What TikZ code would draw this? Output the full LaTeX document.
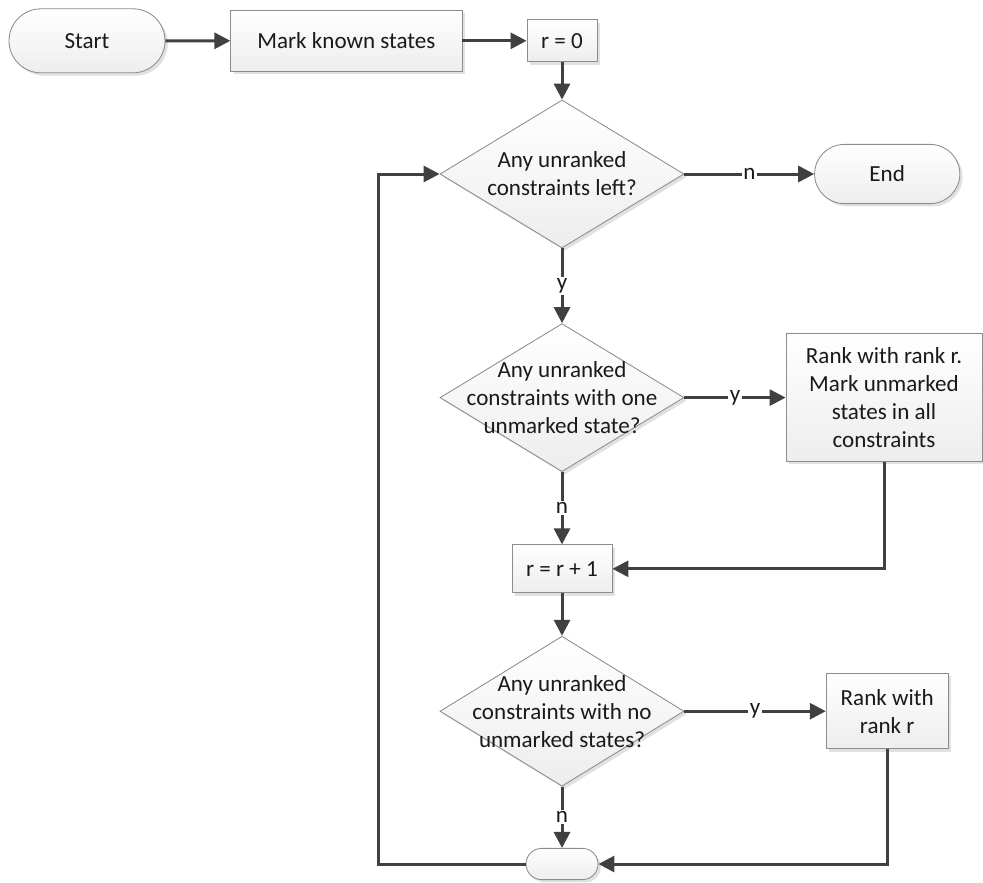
\documentclass[tikz,border=0pt]{standalone}
\usepackage{fontspec}
\setmainfont{Carlito}
\usepackage{tikz}
\usetikzlibrary{shapes.geometric, shapes.misc, arrows.meta, shadows}
\definecolor{linecolor}{HTML}{404040}
\definecolor{edgecolor}{HTML}{8C8C8C}
\definecolor{textcolor}{HTML}{1A1A1A}

\begin{document}
\begin{tikzpicture}[
    base/.style={draw=edgecolor, line width=0.6pt, top color=white, bottom color=gray!14,
      text=textcolor, align=center, inner sep=0pt,
      font=\fontsize{16.4}{19.9}\selectfont,
      drop shadow={shadow xshift=0.07cm, shadow yshift=-0.07cm, fill=gray!30, opacity=0.8}},
    process/.style={base, rectangle},
    terminal/.style={base, rounded rectangle},
    decision/.style={base, diamond, minimum width=6.1cm, minimum height=3.7cm},
    txt/.style={align=center, text=textcolor, inner sep=0pt, font=\fontsize{16.4}{19.9}\selectfont},
    lbl/.style={fill=white, inner sep=1pt, text=textcolor, font=\fontsize{16.4}{19.9}\selectfont},
    arr/.style={-{Triangle[length=0.4cm, width=0.4cm]}, line width=0.075cm, color=linecolor},
]
  \useasboundingbox (0, 0) rectangle (24.575, -22.05);

  % === Top row ===
  \node[terminal, minimum width=3.9cm, minimum height=1.6cm] (start) at (2.175, -1.02) {Start};
  \node[process, minimum width=5.78cm, minimum height=1.53cm] (mark) at (8.66, -1.02) {Mark known states};
  \node[process, minimum width=1.75cm, minimum height=1.05cm] (r0) at (14.05, -1.02) {r = 0};

  % === Decisions (centre column) ===
  \node[decision, label={[txt]center:Any unranked\\constraints left?}] (dec1) at (14.05, -4.35) {};
  \node[decision, label={[txt]center:Any unranked\\constraints with one\\unmarked state?}] (dec2) at (14.05, -9.94) {};
  \node[process, minimum width=2.5cm, minimum height=1.2cm] (rpp) at (14.05, -14.22) {r = r + 1};
  \node[decision, minimum height=3.75cm,
    label={[txt]center:Any unranked\\constraints with no\\unmarked states?}] (dec3) at (14.05, -17.78) {};
  \node[terminal, minimum width=1.8cm, minimum height=0.78cm] (join) at (14.05, -21.6) {};

  % === Right column ===
  \node[terminal, minimum width=3.63cm, minimum height=1.48cm] (end) at (22.18, -4.35) {End};
  \node[process, minimum width=4.9cm, minimum height=3.2cm] (rankall) at (22.1, -9.94)
    {Rank with rank r.\\Mark unmarked\\states in all\\constraints};
  \node[process, minimum width=3.05cm, minimum height=1.88cm] (rankr) at (22.18, -17.78)
    {Rank with\\rank r};

  % loop back corner
  \coordinate (loop) at (9.45, -21.6);

  % === Arrows ===
  \draw[arr] (start) -- (mark);
  \draw[arr] (mark) -- (r0);
  \draw[arr] (r0) -- (dec1);
  \draw[arr] (dec1) -- node[lbl] {n} (end);
  \draw[arr] (dec1) -- node[lbl] {y} (dec2);
  \draw[arr] (dec2) -- node[lbl] {y} (rankall);
  \draw[arr] (dec2) -- node[lbl] {n} (rpp);
  \draw[arr] (rankall.south) |- (rpp.east);
  \draw[arr] (rpp) -- (dec3);
  \draw[arr] (dec3) -- node[lbl] {y} (rankr);
  \draw[arr] (dec3) -- node[lbl] {n} (join);
  \draw[arr] (rankr.south) |- (join.east);
  \draw[arr] (join.west) -- (loop) |- (dec1.west);
\end{tikzpicture}
\end{document}
